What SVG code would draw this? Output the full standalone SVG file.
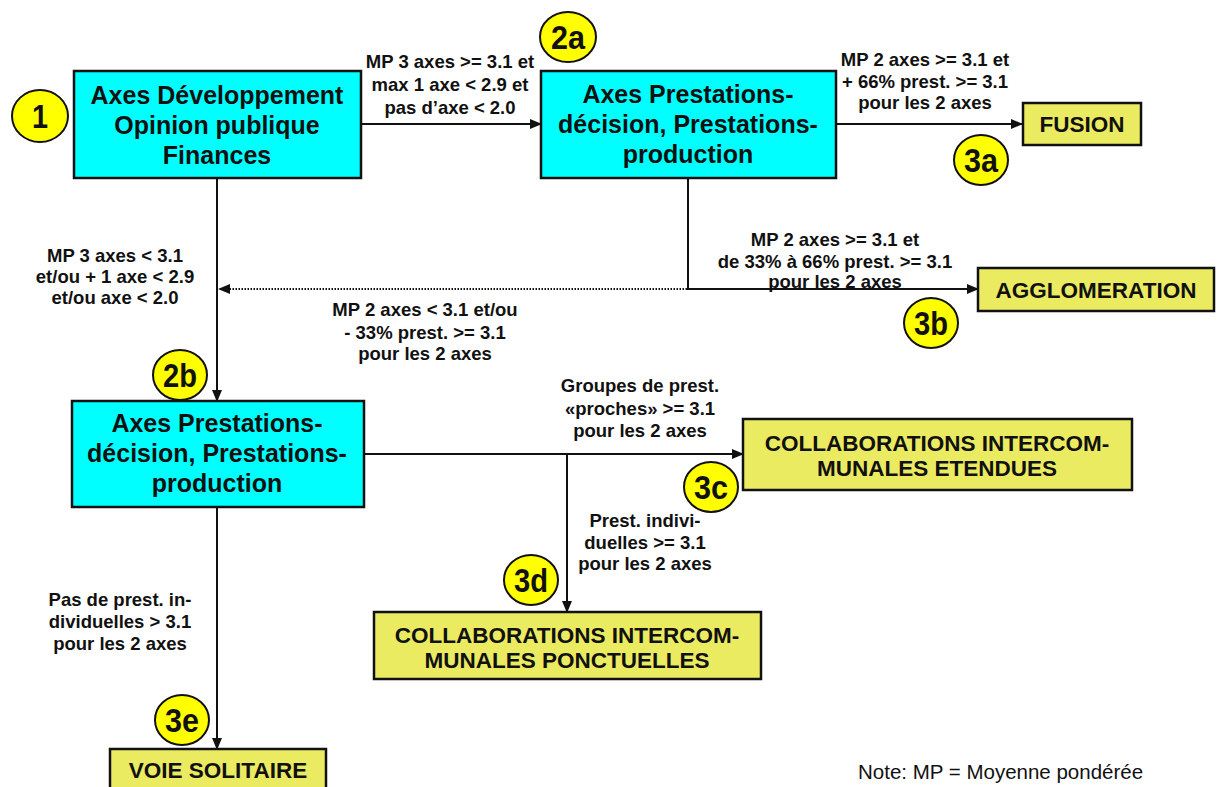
<svg xmlns="http://www.w3.org/2000/svg" width="1217" height="787" viewBox="0 0 1217 787">
<defs>
<marker id="ah" markerWidth="12" markerHeight="10" refX="11" refY="5" orient="auto" markerUnits="userSpaceOnUse">
<path d="M0,0 L12,5 L0,10 Z" fill="#111"/>
</marker>
<style>
.cyan{fill:#00FFFF;stroke:#111;stroke-width:2.5}
.yel{fill:#EBEB61;stroke:#111;stroke-width:2.5}
.circ{fill:#FFFF00;stroke:#111;stroke-width:2}
.bt{font-family:"Liberation Sans",Arial,sans-serif;font-weight:bold;font-size:25px;fill:#111;text-anchor:middle}
.yt{font-family:"Liberation Sans",Arial,sans-serif;font-weight:bold;font-size:22.5px;fill:#111;text-anchor:middle}
.ct{font-family:"Liberation Sans",Arial,sans-serif;font-weight:bold;font-size:33px;fill:#111;text-anchor:middle}
.lt{font-family:"Liberation Sans",Arial,sans-serif;font-weight:bold;font-size:18.5px;fill:#111;text-anchor:middle}
.nt{font-family:"Liberation Sans",Arial,sans-serif;font-size:20.5px;fill:#111}
.ln{fill:none;stroke:#111;stroke-width:2}
.dot{fill:none;stroke:#111;stroke-width:2;stroke-dasharray:1.5 1.5}
</style>
</defs>
<rect width="1217" height="787" fill="#fff"/>

<g id="connectors">
<line class="ln" x1="361" y1="124" x2="541" y2="124" marker-end="url(#ah)"/>
<line class="ln" x1="836" y1="124" x2="1022" y2="124" marker-end="url(#ah)"/>
<polyline class="ln" points="688,178 688,289 978,289" marker-end="url(#ah)"/>
<line class="dot" x1="687" y1="289" x2="219" y2="289" marker-end="url(#ah)"/>
<line class="ln" x1="217" y1="178" x2="217" y2="401" marker-end="url(#ah)"/>
<line class="ln" x1="364" y1="454" x2="743" y2="454" marker-end="url(#ah)"/>
<line class="ln" x1="567" y1="454" x2="567" y2="612" marker-end="url(#ah)"/>
<line class="ln" x1="217" y1="507" x2="217" y2="749" marker-end="url(#ah)"/>
<text class="lt"><tspan x="450" y="68">MP 3 axes &gt;= 3.1 et</tspan><tspan x="450" y="91">max 1 axe &lt; 2.9 et</tspan><tspan x="450" y="114">pas d’axe &lt; 2.0</tspan></text>
<text class="lt"><tspan x="925" y="66">MP 2 axes &gt;= 3.1 et</tspan><tspan x="925" y="88">+ 66% prest. &gt;= 3.1</tspan><tspan x="925" y="109">pour les 2 axes</tspan></text>
<text class="lt"><tspan x="835" y="246">MP 2 axes &gt;= 3.1 et</tspan><tspan x="835" y="268">de 33% à 66% prest. &gt;= 3.1</tspan><tspan x="835" y="288">pour les 2 axes</tspan></text>
<text class="lt"><tspan x="115" y="262">MP 3 axes &lt; 3.1</tspan><tspan x="115" y="283">et/ou + 1 axe &lt; 2.9</tspan><tspan x="115" y="304">et/ou axe &lt; 2.0</tspan></text>
<text class="lt"><tspan x="425" y="316">MP 2 axes &lt; 3.1 et/ou</tspan><tspan x="425" y="339">- 33% prest. &gt;= 3.1</tspan><tspan x="425" y="360">pour les 2 axes</tspan></text>
<text class="lt"><tspan x="640" y="392">Groupes de prest.</tspan><tspan x="640" y="415">«proches» &gt;= 3.1</tspan><tspan x="640" y="437">pour les 2 axes</tspan></text>
<text class="lt"><tspan x="645" y="527">Prest. indivi-</tspan><tspan x="645" y="549">duelles &gt;= 3.1</tspan><tspan x="645" y="570">pour les 2 axes</tspan></text>
<text class="lt"><tspan x="120" y="606">Pas de prest. in-</tspan><tspan x="120" y="628">dividuelles &gt; 3.1</tspan><tspan x="120" y="650">pour les 2 axes</tspan></text>
</g>

<g id="node1">
<rect class="cyan" x="74" y="71" width="287" height="107"/>
<text class="bt"><tspan x="217" y="104">Axes Développement</tspan><tspan x="217" y="134">Opinion publique</tspan><tspan x="217" y="164">Finances</tspan></text>
</g>
<g id="node2a">
<rect class="cyan" x="541" y="71" width="295" height="107"/>
<text class="bt"><tspan x="688" y="103">Axes Prestations-</tspan><tspan x="688" y="133">décision, Prestations-</tspan><tspan x="688" y="163">production</tspan></text>
</g>
<g id="node2b">
<rect class="cyan" x="72" y="401" width="292" height="106"/>
<text class="bt"><tspan x="217" y="432">Axes Prestations-</tspan><tspan x="217" y="462">décision, Prestations-</tspan><tspan x="217" y="492">production</tspan></text>
</g>
<g id="fusion">
<rect class="yel" x="1023" y="103" width="118" height="42"/>
<text class="yt" x="1082" y="132">FUSION</text>
</g>
<g id="agglomeration">
<rect class="yel" x="978" y="268" width="236" height="43"/>
<text class="yt" x="1096" y="298">AGGLOMERATION</text>
</g>
<g id="etendues">
<rect class="yel" x="743" y="419" width="389" height="71"/>
<text class="yt"><tspan x="937" y="451">COLLABORATIONS INTERCOM-</tspan><tspan x="937" y="476">MUNALES ETENDUES</tspan></text>
</g>
<g id="ponctuelles">
<rect class="yel" x="374" y="612" width="387" height="67"/>
<text class="yt"><tspan x="567" y="643">COLLABORATIONS INTERCOM-</tspan><tspan x="567" y="668">MUNALES PONCTUELLES</tspan></text>
</g>
<g id="solitaire">
<rect class="yel" x="110" y="749" width="216" height="50"/>
<text class="yt" x="218" y="778">VOIE SOLITAIRE</text>
</g>

<g id="c1"><ellipse class="circ" cx="40" cy="116" rx="28" ry="26"/><text class="ct" x="40" y="128" textLength="16" lengthAdjust="spacingAndGlyphs">1</text></g>
<g id="c2a"><ellipse class="circ" cx="568" cy="37" rx="28" ry="25"/><text class="ct" x="568" y="49" textLength="34" lengthAdjust="spacingAndGlyphs">2a</text></g>
<g id="c3a"><ellipse class="circ" cx="981" cy="160" rx="27" ry="25"/><text class="ct" x="981" y="172" textLength="34" lengthAdjust="spacingAndGlyphs">3a</text></g>
<g id="c3b"><ellipse class="circ" cx="931" cy="323" rx="27" ry="25"/><text class="ct" x="931" y="335" textLength="34" lengthAdjust="spacingAndGlyphs">3b</text></g>
<g id="c2b"><ellipse class="circ" cx="180" cy="375" rx="27" ry="25"/><text class="ct" x="180" y="387" textLength="34" lengthAdjust="spacingAndGlyphs">2b</text></g>
<g id="c3c"><ellipse class="circ" cx="711" cy="487" rx="27" ry="25"/><text class="ct" x="711" y="499" textLength="34" lengthAdjust="spacingAndGlyphs">3c</text></g>
<g id="c3d"><ellipse class="circ" cx="531" cy="580" rx="27" ry="25"/><text class="ct" x="531" y="592" textLength="34" lengthAdjust="spacingAndGlyphs">3d</text></g>
<g id="c3e"><ellipse class="circ" cx="182" cy="720" rx="27" ry="25"/><text class="ct" x="182" y="732" textLength="34" lengthAdjust="spacingAndGlyphs">3e</text></g>

<text class="nt" x="858" y="779">Note: MP = Moyenne pondérée</text>
</svg>
